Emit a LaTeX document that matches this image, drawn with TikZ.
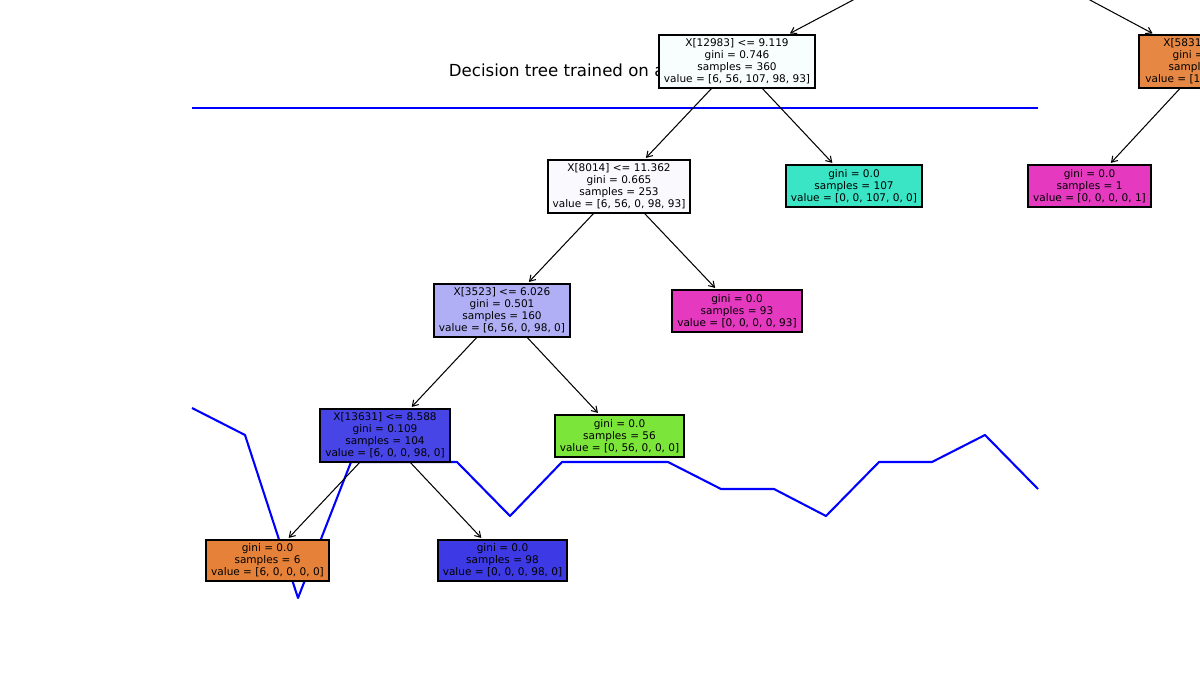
\documentclass[tikz,border=0pt]{standalone}
\usepackage{fontspec}
\setmainfont{DejaVu Sans}
\usetikzlibrary{arrows.meta}
\definecolor{cOrange}{RGB}{229,129,57}
\definecolor{cOrangeB}{RGB}{230,135,67}
\definecolor{cGreen}{RGB}{123,229,57}
\definecolor{cCyan}{RGB}{57,229,197}
\definecolor{cCyanL}{RGB}{248,254,253}
\definecolor{cBlue}{RGB}{61,57,229}
\definecolor{cBlueL}{RGB}{249,249,254}
\definecolor{cBlueM}{RGB}{176,175,245}
\definecolor{cBlueD}{RGB}{72,69,231}
\definecolor{cMagenta}{RGB}{229,57,192}
\definecolor{plotblue}{RGB}{0,0,255}
\begin{document}
\begin{tikzpicture}[x=0.01in,y=-0.01in,
  tnode/.style={draw=black, line width=0.8pt, inner sep=0pt, align=center,
    font=\fontsize{7.6}{8.6}\selectfont},
  tsize/.style 2 args={minimum width=#1*0.01in, minimum height=#2*0.01in},
  edge/.style={draw=black, line width=0.75pt,
    -{Straight Barb[length=4pt,width=5pt]}, shorten >=1.5pt},
  plotline/.style={draw=plotblue, line width=1.5pt, line join=round}]
\useasboundingbox (0,0) rectangle (1200,700);
\clip (0,0) rectangle (1200,700);

% plot behind the tree
\draw[plotline] (192,108) -- (1038,108);
\draw[plotline] (192,408) -- (245,435) -- (298,598) -- (351,462) -- (404,462)
  -- (457,462) -- (510,516) -- (562,462) -- (615,462) -- (668,462) -- (721,489)
  -- (774,489) -- (826,516) -- (879,462) -- (932,462) -- (985,435) -- (1038,489);

\node[anchor=base west, font=\fontsize{12}{14}\selectfont] (title) at (444,76.5)
  {Decision tree trained on a};

% tree nodes
\coordinate (root) at (972,-63);
\node[tnode, fill=cCyanL, tsize={156}{53}] (n1) at (737,61.5)
  {X[12983] <= 9.119\\gini = 0.746\\samples = 360\\value = [6, 56, 107, 98, 93]};
\node[tnode, fill=cOrangeB, tsize={132}{53}] (n2) at (1205,61.5)
  {X[5831] <= 0.5\\gini = 0.095\\samples = 20\\value = [19, 0, 0, 0, 1]};
\node[tnode, fill=cBlueL, tsize={142}{53}] (n3) at (619,186.5)
  {X[8014] <= 11.362\\gini = 0.665\\samples = 253\\value = [6, 56, 0, 98, 93]};
\node[tnode, fill=cCyan, tsize={136}{42}] (n4) at (854,186)
  {gini = 0.0\\samples = 107\\value = [0, 0, 107, 0, 0]};
\node[tnode, fill=cMagenta, tsize={123}{42}] (n5) at (1089.5,186)
  {gini = 0.0\\samples = 1\\value = [0, 0, 0, 0, 1]};
\node[tnode, fill=cBlueM, tsize={136}{53}] (n6) at (502,310.5)
  {X[3523] <= 6.026\\gini = 0.501\\samples = 160\\value = [6, 56, 0, 98, 0]};
\node[tnode, fill=cMagenta, tsize={130}{42}] (n7) at (737,311)
  {gini = 0.0\\samples = 93\\value = [0, 0, 0, 0, 93]};
\node[tnode, fill=cBlueD, tsize={130}{53}] (n8) at (385,435.5)
  {X[13631] <= 8.588\\gini = 0.109\\samples = 104\\value = [6, 0, 0, 98, 0]};
\node[tnode, fill=cGreen, tsize={129}{42}] (n9) at (619.5,436)
  {gini = 0.0\\samples = 56\\value = [0, 56, 0, 0, 0]};
\node[tnode, fill=cOrange, tsize={123}{41}] (n10) at (267.5,560.5)
  {gini = 0.0\\samples = 6\\value = [6, 0, 0, 0, 0]};
\node[tnode, fill=cBlue, tsize={129}{41}] (n11) at (502.5,560.5)
  {gini = 0.0\\samples = 98\\value = [0, 0, 0, 98, 0]};

% edges
\draw[edge] (root) -- (n1);
\draw[edge] (root) -- (n2);
\draw[edge] (n1) -- (n3);
\draw[edge] (n1) -- (n4);
\draw[edge] (n2) -- (n5);
\draw[edge] (n3) -- (n6);
\draw[edge] (n3) -- (n7);
\draw[edge] (n6) -- (n8);
\draw[edge] (n6) -- (n9);
\draw[edge] (n8) -- (n10);
\draw[edge] (n8) -- (n11);
\end{tikzpicture}
\end{document}
